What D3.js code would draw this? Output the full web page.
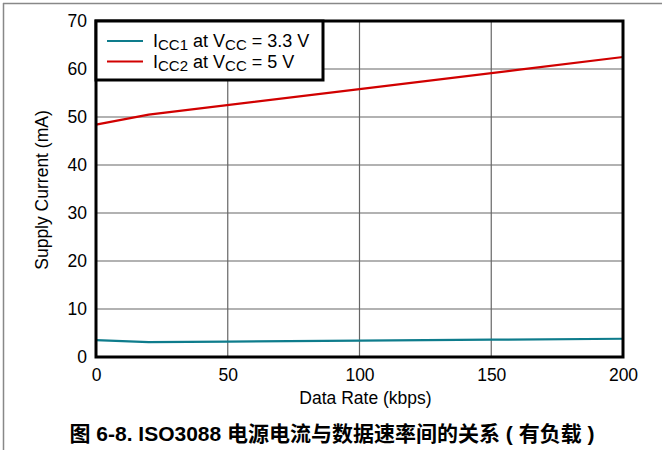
<!DOCTYPE html>
<html><head><meta charset="utf-8">
<script src="https://cdn.jsdelivr.net/npm/d3@7"></script>
<style>body{margin:0;background:#fff}svg{display:block}</style>
</head><body><svg id="c" width="662" height="450"></svg>
<script>
const xTicks = [0, 50, 100, 150, 200];
const yTicks = [0, 10, 20, 30, 40, 50, 60, 70];
const rateIcc1 = [0, 20, 50, 100, 150, 200];
const icc1 = [3.5, 3.1, 3.2, 3.4, 3.6, 3.8];
const rateIcc2 = [0, 20, 100, 160, 200];
const icc2 = [48.4, 50.5, 55.8, 59.8, 62.5];
const xTitle = "Data Rate (kbps)";
const yTitle = "Supply Current (mA)";
const caption = "图 6-8. ISO3088 电源电流与数据速率间的关系 ( 有负载 )";

const svg = d3.select("#c");
const L = 96, R = 623, T = 21, B = 357;
const x = d3.scaleLinear().domain([0, 200]).range([L, R]);
const y = d3.scaleLinear().domain([0, 70]).range([B, T]);
const font = "'Liberation Sans', Arial, sans-serif";

// page border
svg.append("line").attr("x1", 3).attr("x2", 662).attr("y1", 3.5).attr("y2", 3.5).attr("stroke", "#888").attr("stroke-width", 1.5);
svg.append("line").attr("x1", 3.5).attr("x2", 3.5).attr("y1", 3).attr("y2", 450).attr("stroke", "#888").attr("stroke-width", 1.5);

// grid
const g = svg.append("g");
g.selectAll(".gx").data(xTicks).join("line").attr("x1", d => x(d)).attr("x2", d => x(d)).attr("y1", T).attr("y2", B).attr("stroke", "#666").attr("stroke-width", 1.2);
g.selectAll(".gy").data(yTicks).join("line").attr("y1", d => y(d)).attr("y2", d => y(d)).attr("x1", L).attr("x2", R).attr("stroke", "#666").attr("stroke-width", 1.2);

// axes (labels only)
const xa = svg.append("g").attr("transform", `translate(0,${B + 9})`).call(d3.axisBottom(x).tickValues(xTicks).tickSize(0).tickPadding(3));
xa.select(".domain").remove();
xa.selectAll("text").attr("font-family", font).attr("font-size", 17.5).attr("fill", "#000");
const ya = svg.append("g").attr("transform", `translate(${L - 9},0)`).call(d3.axisLeft(y).tickValues(yTicks).tickSize(0).tickPadding(0));
ya.select(".domain").remove();
ya.selectAll("text").attr("font-family", font).attr("font-size", 17.5).attr("fill", "#000");

// lines
const line = d3.line().x(d => x(d[0])).y(d => y(d[1]));
svg.append("path").datum(rateIcc1.map((r, i) => [r, icc1[i]])).attr("d", line).attr("fill", "none").attr("stroke", "#0e7c8c").attr("stroke-width", 2.2);
svg.append("path").datum(rateIcc2.map((r, i) => [r, icc2[i]])).attr("d", line).attr("fill", "none").attr("stroke", "#d10000").attr("stroke-width", 2.2);

// frame
svg.append("rect").attr("x", L).attr("y", T).attr("width", R - L).attr("height", B - T).attr("fill", "none").attr("stroke", "#000").attr("stroke-width", 3);

// legend
const lg = svg.append("g");
lg.append("rect").attr("x", L).attr("y", T).attr("width", 227).attr("height", 59).attr("fill", "#fff").attr("stroke", "#000").attr("stroke-width", 3);
const legendItems = [
  { color: "#0e7c8c", sub1: "CC1", rest: " = 3.3 V" },
  { color: "#d10000", sub1: "CC2", rest: " = 5 V" }
];
legendItems.forEach((it, i) => {
  const yy = 41 + i * 20.5;
  lg.append("line").attr("x1", 107).attr("x2", 143).attr("y1", yy).attr("y2", yy).attr("stroke", it.color).attr("stroke-width", 2.2);
  const t = lg.append("text").attr("x", 153).attr("y", yy + 6).attr("font-family", font).attr("font-size", 18).attr("fill", "#000");
  t.append("tspan").text("I");
  t.append("tspan").attr("font-size", 15).attr("dy", 3).text(it.sub1);
  t.append("tspan").attr("dy", -3).text(" at V");
  t.append("tspan").attr("font-size", 15).attr("dy", 3).text("CC");
  t.append("tspan").attr("dy", -3).text(it.rest);
});

// titles
svg.append("text").attr("x", (L + R) / 2 + 6).attr("y", 404).attr("text-anchor", "middle").attr("font-family", font).attr("font-size", 17.5).text(xTitle);
svg.append("text").attr("transform", `translate(48,${(T + B) / 2 + 1}) rotate(-90)`).attr("text-anchor", "middle").attr("font-family", font).attr("font-size", 17.5).text(yTitle);
svg.append("text").attr("x", 332).attr("y", 441).attr("text-anchor", "middle").attr("font-family", "'Liberation Sans', 'Noto Sans CJK SC', sans-serif").attr("font-weight", "bold").attr("font-size", 21).text(caption);
</script></body></html>
